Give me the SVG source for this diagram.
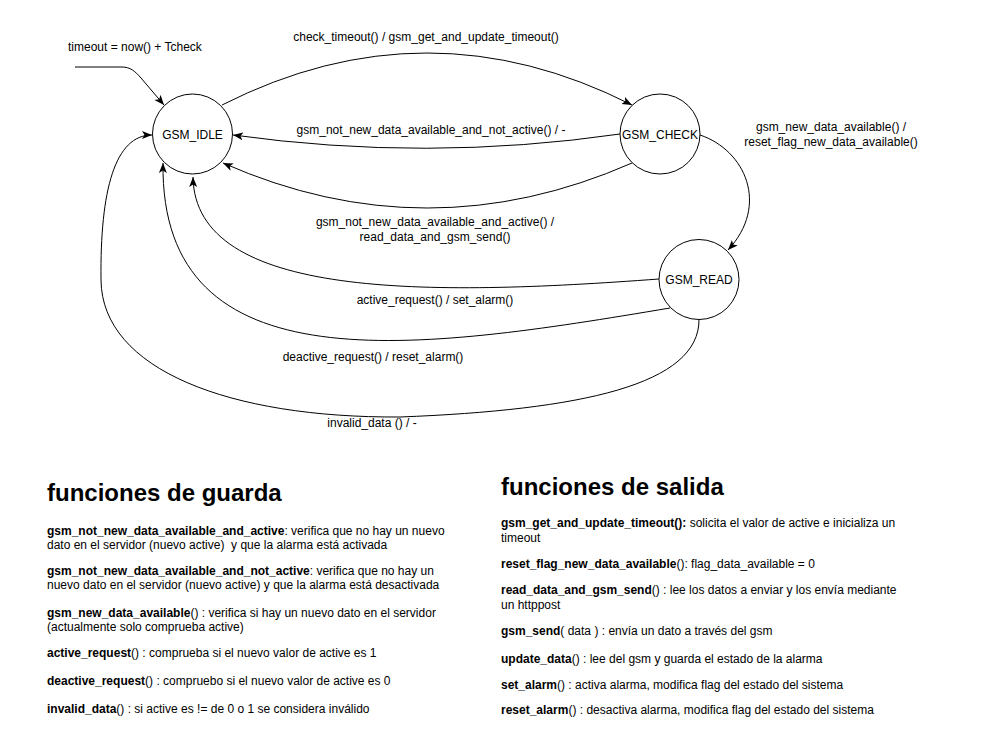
<svg xmlns="http://www.w3.org/2000/svg" width="981" height="732" viewBox="0 0 981 732">
<style>
  text { font-family: "Liberation Sans", Arial, Helvetica, sans-serif; fill: #000; }
  .lbl { font-size: 12px; text-anchor: middle; }
  .lbls { font-size: 12px; }
  .state { fill: #fff; stroke: #000; stroke-width: 1; }
  .edge { fill: none; stroke: #000; stroke-width: 1; marker-end: url(#arrow); }
  .title { font-size: 24px; font-weight: bold; }
  .body { font-size: 12px; }
  .b { font-weight: bold; }
</style>
<defs>
  <marker id="arrow" markerUnits="userSpaceOnUse" markerWidth="11" markerHeight="9" viewBox="0 0 11 9" refX="10" refY="4.5" orient="auto">
    <path d="M0,0.5 L10,4.5 L0,8.5 L2.5,4.5 Z" fill="#000"/>
  </marker>
</defs>
<rect width="981" height="732" fill="#fff"/>

<g id="connectors">
  <path id="e-init" class="edge" d="M75,67 L122,67 C130,67 135,71 141,78 L164,105"/>
  <path id="e-idle-check" class="edge" d="M222,105 Q427,1 632,105"/>
  <path id="e-check-idle-1" class="edge" d="M620,134 Q427,162 233,135"/>
  <path id="e-check-idle-2" class="edge" d="M632,163 Q427,253 223,163"/>
  <path id="e-check-read" class="edge" d="M700,135 C745,150 770,205 728,250"/>
  <path id="e-read-idle-active" class="edge" d="M659,279 C430,296 195,300 193,177"/>
  <path id="e-read-idle-deactive" class="edge" d="M670,308 C420,350 160,390 163,163"/>
  <path id="e-read-idle-invalid" class="edge" d="M699,319 C700,385 580,410 400,417 C230,418 102,370 101,280 C100,190 115,135 152,135"/>
</g>

<g id="edge-labels">
  <text class="lbls" x="68" y="51">timeout = now() + Tcheck</text>
  <text class="lbl" x="426" y="41">check_timeout() / gsm_get_and_update_timeout()</text>
  <text class="lbl" x="431" y="134">gsm_not_new_data_available_and_not_active() / -</text>
  <text class="lbl" x="831" y="131">gsm_new_data_available() /</text>
  <text class="lbl" x="831" y="146">reset_flag_new_data_available()</text>
  <text class="lbl" x="435" y="226">gsm_not_new_data_available_and_active() /</text>
  <text class="lbl" x="435" y="241">read_data_and_gsm_send()</text>
  <text class="lbl" x="435" y="304">active_request() / set_alarm()</text>
  <text class="lbl" x="373" y="361">deactive_request() / reset_alarm()</text>
  <text class="lbl" x="372" y="427">invalid_data () / -</text>
</g>

<g id="GSM_IDLE">
  <circle class="state" cx="192.5" cy="134" r="40"/>
  <text class="lbl" x="192.5" y="139">GSM_IDLE</text>
</g>
<g id="GSM_CHECK">
  <circle class="state" cx="660" cy="134" r="40"/>
  <text class="lbl" x="660" y="139">GSM_CHECK</text>
</g>
<g id="GSM_READ">
  <circle class="state" cx="699" cy="279.5" r="40"/>
  <text class="lbl" x="699" y="284">GSM_READ</text>
</g>

<g id="funciones-de-guarda">
  <text class="title" x="47" y="501">funciones de guarda</text>
  <text class="body" x="47" y="535"><tspan class="b">gsm_not_new_data_available_and_active</tspan>: verifica que no hay un nuevo</text>
  <text class="body" x="47" y="549" xml:space="preserve">dato en el servidor (nuevo active)  y que la alarma está activada</text>
  <text class="body" x="47" y="575"><tspan class="b">gsm_not_new_data_available_and_not_active</tspan>: verifica que no hay un</text>
  <text class="body" x="47" y="589">nuevo dato en el servidor (nuevo active) y que la alarma está desactivada</text>
  <text class="body" x="47" y="617"><tspan class="b">gsm_new_data_available</tspan>() : verifica si hay un nuevo dato en el servidor</text>
  <text class="body" x="47" y="631">(actualmente solo comprueba active)</text>
  <text class="body" x="47" y="657"><tspan class="b">active_request</tspan>() : comprueba si el nuevo valor de active es 1</text>
  <text class="body" x="47" y="685"><tspan class="b">deactive_request</tspan>() : compruebo si el nuevo valor de active es 0</text>
  <text class="body" x="47" y="713"><tspan class="b">invalid_data</tspan>() : si active es != de 0 o 1 se considera inválido</text>
</g>

<g id="funciones-de-salida">
  <text class="title" x="501" y="495">funciones de salida</text>
  <text class="body" x="501" y="527"><tspan class="b">gsm_get_and_update_timeout():</tspan> solicita el valor de active e inicializa un</text>
  <text class="body" x="501" y="542">timeout</text>
  <text class="body" x="501" y="568"><tspan class="b">reset_flag_new_data_available</tspan>(): flag_data_available = 0</text>
  <text class="body" x="501" y="594"><tspan class="b">read_data_and_gsm_send</tspan>() : lee los datos a enviar y los envía mediante</text>
  <text class="body" x="501" y="609">un httppost</text>
  <text class="body" x="501" y="635"><tspan class="b">gsm_send</tspan>( data ) : envía un dato a través del gsm</text>
  <text class="body" x="501" y="663"><tspan class="b">update_data</tspan>() : lee del gsm y guarda el estado de la alarma</text>
  <text class="body" x="501" y="689"><tspan class="b">set_alarm</tspan>() : activa alarma, modifica flag del estado del sistema</text>
  <text class="body" x="501" y="714"><tspan class="b">reset_alarm</tspan>() : desactiva alarma, modifica flag del estado del sistema</text>
</g>
</svg>
